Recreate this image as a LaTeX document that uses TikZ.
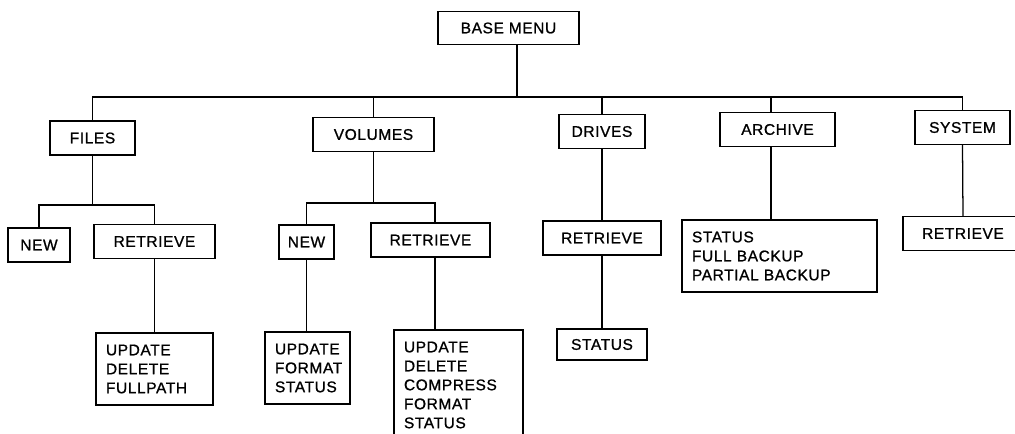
\documentclass[tikz,border=0pt]{standalone}
\usepackage{fontspec}
\setmainfont{Liberation Sans}[LetterSpace=4, FakeBold=1]

\begin{document}
\begin{tikzpicture}[x=0.025cm, y=-0.025cm, line width=0.9pt,
    box/.style={draw, inner sep=0pt, minimum height=0.85cm,
                font=\fontsize{11}{13.5}\selectfont},
    menulist/.style={box, align=left, inner xsep=0.25cm}]
  \useasboundingbox (0,0) rectangle (1015,434);
  \clip (0,0) rectangle (1015,434);

  % top level
  \node[box, minimum width=3.525cm, minimum height=0.825cm] (base) at (508.5,28) {BASE MENU};
  \node[box, minimum width=2.125cm] (files) at (92.5,138) {FILES};
  \node[box, minimum width=3.025cm] (volumes) at (373.5,134.5) {VOLUMES};
  \node[box, minimum width=2.15cm] (drives) at (602,131.5) {DRIVES};
  \node[box, minimum width=2.875cm] (archive) at (777.5,129.5) {ARCHIVE};
  \node[box, minimum width=2.375cm] (system) at (962.5,127.5) {SYSTEM};

  % files
  \node[box, minimum width=1.55cm] (fnew) at (39,245) {NEW};
  \node[box, minimum width=3.025cm] (fret) at (154.5,241.5) {RETRIEVE};
  \node[menulist, text width=2.425cm, minimum height=1.8cm] (flist) at (154.5,369)
    {UPDATE\\DELETE\\FULLPATH};

  % volumes
  \node[box, minimum width=1.375cm] (vnew) at (306.5,242) {NEW};
  \node[box, minimum width=2.975cm] (vret) at (430.5,240) {RETRIEVE};
  \node[menulist, text width=1.625cm, minimum height=1.8cm] (vnewlist) at (307.5,368)
    {UPDATE\\FORMAT\\STATUS};
  \node[menulist, text width=2.725cm, minimum height=2.75cm] (vretlist) at (458.5,385)
    {UPDATE\\DELETE\\COMPRESS\\FORMAT\\STATUS};

  % drives
  \node[box, minimum width=2.95cm] (dret) at (602,238) {RETRIEVE};
  \node[box, minimum width=2.25cm, minimum height=0.775cm] (dstat) at (602,344.5) {STATUS};

  % archive
  \node[menulist, text width=4.375cm, minimum height=1.8cm] (alist) at (779.5,256)
    {STATUS\\FULL BACKUP\\PARTIAL BACKUP};

  % system
  \node[box, minimum width=3cm] (sret) at (963,233.5) {RETRIEVE};

  % connectors
  \coordinate (bus) at (517,97);
  \coordinate (acol) at (771,97);
  \coordinate (fbus) at (92.5,205);
  \coordinate (vbus) at (373.5,203);
  \coordinate (vcol) at (435,203);

  \draw (base.south -| bus) -- (bus);
  \draw (files.north) |- (bus) -| (system.north);
  \draw (volumes.north) -- (volumes.north |- bus);
  \draw (drives.north) -- (drives.north |- bus);
  \draw (acol) -- (acol |- archive.north);

  \draw (files.south) -- (fbus);
  \draw (fnew.north) |- (fbus) -| (fret.north);
  \draw (fret.south) -- (flist.north);

  \draw (volumes.south) -- (vbus);
  \draw (vnew.north) |- (vbus) -- (vcol) -- (vcol |- vret.north);
  \draw (vnew.south) -- (vnewlist.north -| vnew.south);
  \draw (vret.south -| vcol) -- (vretlist.north -| vcol);

  \draw (drives.south) -- (dret.north);
  \draw (dret.south) -- (dstat.north);

  \draw (archive.south -| acol) -- (alist.north -| acol);

  \draw (system.south) -- (sret.north);
\end{tikzpicture}
\end{document}
